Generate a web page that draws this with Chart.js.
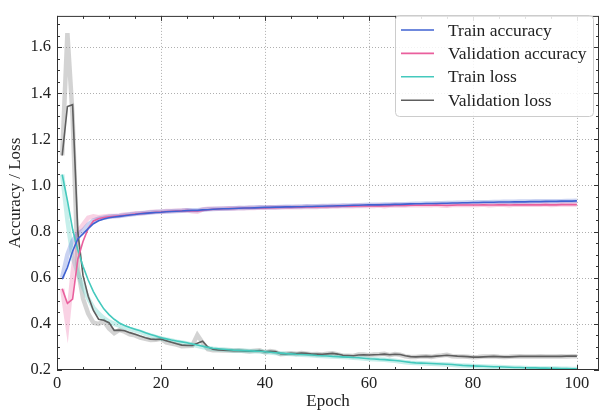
<!DOCTYPE html>
<html>
<head>
<meta charset="utf-8">
<script src="https://cdn.jsdelivr.net/npm/chart.js@4.4.1/dist/chart.umd.min.js"></script>
<style>
  html, body { margin: 0; padding: 0; background: #fff; }
  #wrap { width: 600px; height: 414px; }
</style>
</head>
<body>
<div id="wrap"><canvas id="historyChart" width="600" height="414"></canvas></div>
<script>
      // epochs 1..100
      const epochs = Array.from({ length: 100 }, (_, i) => i + 1);

      // smoothed curves (solid lines)
      const trainAcc = [
        0.594, 0.644, 0.715, 0.768, 0.790, 0.813, 0.834, 0.847, 0.855, 0.860,
        0.863, 0.866, 0.869, 0.872, 0.874, 0.877, 0.879, 0.881, 0.883, 0.884,
        0.886, 0.887, 0.888, 0.889, 0.891, 0.892, 0.892, 0.894, 0.895, 0.897,
        0.898, 0.899, 0.899, 0.900, 0.901, 0.902, 0.902, 0.903, 0.904, 0.905,
        0.905, 0.906, 0.906, 0.907, 0.907, 0.908, 0.908, 0.909, 0.909, 0.910,
        0.910, 0.911, 0.911, 0.912, 0.912, 0.913, 0.914, 0.914, 0.915, 0.916,
        0.916, 0.916, 0.917, 0.917, 0.918, 0.918, 0.919, 0.920, 0.921, 0.921,
        0.922, 0.922, 0.922, 0.923, 0.923, 0.924, 0.924, 0.925, 0.925, 0.926,
        0.926, 0.927, 0.927, 0.927, 0.928, 0.928, 0.928, 0.929, 0.929, 0.929,
        0.930, 0.930, 0.930, 0.931, 0.931, 0.931, 0.932, 0.932, 0.932, 0.933,
      ];
      const valAcc = [
        0.552, 0.489, 0.507, 0.680, 0.757, 0.814, 0.846, 0.856, 0.861, 0.864,
        0.866, 0.868, 0.871, 0.873, 0.876, 0.878, 0.880, 0.882, 0.884, 0.885,
        0.887, 0.888, 0.889, 0.890, 0.891, 0.890, 0.889, 0.892, 0.895, 0.897,
        0.898, 0.899, 0.900, 0.900, 0.901, 0.901, 0.902, 0.902, 0.903, 0.903,
        0.904, 0.904, 0.905, 0.905, 0.905, 0.906, 0.906, 0.907, 0.907, 0.907,
        0.908, 0.908, 0.909, 0.909, 0.910, 0.910, 0.910, 0.911, 0.911, 0.911,
        0.911, 0.912, 0.911, 0.912, 0.913, 0.913, 0.913, 0.914, 0.914, 0.914,
        0.914, 0.914, 0.915, 0.914, 0.913, 0.914, 0.915, 0.915, 0.915, 0.915,
        0.915, 0.916, 0.915, 0.915, 0.916, 0.916, 0.915, 0.916, 0.916, 0.916,
        0.916, 0.916, 0.916, 0.917, 0.916, 0.916, 0.917, 0.917, 0.917, 0.917,
      ];
      const trainLoss = [
        1.047, 0.935, 0.810, 0.720, 0.650, 0.590, 0.540, 0.500, 0.465, 0.440,
        0.420, 0.404, 0.393, 0.384, 0.377, 0.370, 0.362, 0.354, 0.347, 0.340,
        0.335, 0.330, 0.326, 0.322, 0.318, 0.313, 0.308, 0.303, 0.298, 0.294,
        0.292, 0.290, 0.288, 0.286, 0.285, 0.284, 0.283, 0.282, 0.281, 0.279,
        0.277, 0.275, 0.273, 0.271, 0.270, 0.268, 0.267, 0.266, 0.265, 0.263,
        0.262, 0.261, 0.259, 0.258, 0.257, 0.256, 0.254, 0.253, 0.251, 0.249,
        0.248, 0.246, 0.245, 0.243, 0.241, 0.239, 0.236, 0.233, 0.231, 0.230,
        0.229, 0.228, 0.227, 0.226, 0.225, 0.224, 0.222, 0.220, 0.219, 0.218,
        0.217, 0.216, 0.215, 0.214, 0.214, 0.213, 0.212, 0.211, 0.211, 0.210,
        0.209, 0.209, 0.208, 0.208, 0.207, 0.207, 0.206, 0.206, 0.205, 0.205,
      ];
      const valLoss = [
        1.130, 1.342, 1.350, 0.800, 0.610, 0.520, 0.458, 0.420, 0.416, 0.405,
        0.372, 0.373, 0.370, 0.362, 0.355, 0.347, 0.340, 0.334, 0.332, 0.334,
        0.327, 0.320, 0.314, 0.308, 0.306, 0.306, 0.316, 0.325, 0.300, 0.290,
        0.287, 0.286, 0.285, 0.284, 0.284, 0.283, 0.281, 0.282, 0.284, 0.279,
        0.281, 0.280, 0.271, 0.270, 0.272, 0.271, 0.273, 0.272, 0.269, 0.269,
        0.268, 0.270, 0.272, 0.269, 0.264, 0.263, 0.262, 0.265, 0.266, 0.265,
        0.266, 0.267, 0.269, 0.266, 0.268, 0.267, 0.262, 0.258, 0.257, 0.258,
        0.259, 0.258, 0.260, 0.262, 0.264, 0.262, 0.260, 0.259, 0.258, 0.256,
        0.256, 0.257, 0.258, 0.259, 0.258, 0.257, 0.257, 0.258, 0.259, 0.259,
        0.259, 0.259, 0.259, 0.259, 0.259, 0.259, 0.259, 0.260, 0.260, 0.260,
      ];

      // raw per-epoch values (faint wide lines)
      const rawTrainAcc = [
        0.600, 0.700, 0.760, 0.790, 0.805, 0.830, 0.848, 0.856, 0.860, 0.864,
        0.866, 0.868, 0.871, 0.874, 0.876, 0.879, 0.881, 0.883, 0.885, 0.886,
        0.887, 0.888, 0.889, 0.890, 0.892, 0.892, 0.893, 0.895, 0.897, 0.898,
        0.899, 0.899, 0.900, 0.901, 0.902, 0.902, 0.903, 0.904, 0.905, 0.905,
        0.906, 0.906, 0.907, 0.908, 0.908, 0.908, 0.909, 0.910, 0.910, 0.910,
        0.911, 0.911, 0.912, 0.912, 0.913, 0.913, 0.914, 0.914, 0.915, 0.916,
        0.916, 0.916, 0.917, 0.917, 0.918, 0.918, 0.919, 0.920, 0.921, 0.921,
        0.922, 0.922, 0.923, 0.923, 0.924, 0.924, 0.925, 0.925, 0.926, 0.926,
        0.927, 0.927, 0.927, 0.928, 0.928, 0.929, 0.929, 0.929, 0.930, 0.930,
        0.930, 0.931, 0.931, 0.931, 0.932, 0.932, 0.932, 0.933, 0.933, 0.934,
      ];
      const rawValAcc = [
        0.552, 0.395, 0.620, 0.800, 0.830, 0.860, 0.866, 0.862, 0.866, 0.868,
        0.868, 0.870, 0.874, 0.875, 0.879, 0.880, 0.882, 0.885, 0.886, 0.886,
        0.889, 0.889, 0.890, 0.891, 0.892, 0.888, 0.886, 0.896, 0.899, 0.899,
        0.899, 0.900, 0.901, 0.900, 0.902, 0.901, 0.903, 0.902, 0.904, 0.903,
        0.905, 0.904, 0.906, 0.905, 0.905, 0.907, 0.906, 0.908, 0.907, 0.907,
        0.909, 0.908, 0.910, 0.909, 0.911, 0.910, 0.910, 0.912, 0.911, 0.911,
        0.911, 0.913, 0.910, 0.913, 0.914, 0.913, 0.913, 0.915, 0.914, 0.914,
        0.914, 0.914, 0.916, 0.913, 0.912, 0.915, 0.916, 0.915, 0.915, 0.915,
        0.915, 0.917, 0.914, 0.915, 0.917, 0.916, 0.914, 0.917, 0.916, 0.916,
        0.916, 0.916, 0.916, 0.918, 0.915, 0.916, 0.918, 0.917, 0.917, 0.917,
      ];
      const rawTrainLoss = [
        1.047, 0.850, 0.690, 0.620, 0.560, 0.510, 0.470, 0.445, 0.425, 0.410,
        0.400, 0.392, 0.385, 0.378, 0.372, 0.365, 0.357, 0.350, 0.343, 0.337,
        0.332, 0.328, 0.323, 0.319, 0.315, 0.310, 0.305, 0.300, 0.295, 0.292,
        0.290, 0.289, 0.287, 0.285, 0.284, 0.283, 0.282, 0.281, 0.280, 0.278,
        0.276, 0.274, 0.272, 0.270, 0.269, 0.267, 0.266, 0.265, 0.264, 0.262,
        0.261, 0.260, 0.258, 0.257, 0.256, 0.255, 0.253, 0.252, 0.250, 0.248,
        0.247, 0.245, 0.244, 0.242, 0.240, 0.237, 0.234, 0.231, 0.230, 0.229,
        0.228, 0.227, 0.226, 0.225, 0.224, 0.223, 0.221, 0.219, 0.218, 0.217,
        0.216, 0.215, 0.214, 0.214, 0.213, 0.212, 0.211, 0.210, 0.210, 0.209,
        0.208, 0.208, 0.207, 0.207, 0.206, 0.206, 0.205, 0.205, 0.204, 0.204,
      ];
      const rawValLoss = [
        1.130, 1.660, 1.300, 0.640, 0.510, 0.445, 0.405, 0.400, 0.412, 0.380,
        0.360, 0.374, 0.366, 0.355, 0.350, 0.340, 0.335, 0.330, 0.331, 0.335,
        0.320, 0.315, 0.310, 0.303, 0.304, 0.305, 0.352, 0.318, 0.290, 0.286,
        0.286, 0.285, 0.284, 0.283, 0.284, 0.282, 0.280, 0.283, 0.285, 0.276,
        0.282, 0.278, 0.268, 0.270, 0.273, 0.270, 0.274, 0.271, 0.268, 0.269,
        0.267, 0.271, 0.273, 0.267, 0.262, 0.262, 0.261, 0.267, 0.267, 0.264,
        0.267, 0.268, 0.270, 0.264, 0.269, 0.266, 0.259, 0.256, 0.256, 0.259,
        0.260, 0.257, 0.261, 0.263, 0.266, 0.260, 0.259, 0.258, 0.257, 0.255,
        0.256, 0.258, 0.259, 0.260, 0.257, 0.256, 0.257, 0.259, 0.260, 0.259,
        0.258, 0.259, 0.260, 0.259, 0.258, 0.259, 0.260, 0.259, 0.260, 0.260,
      ];

      const seriesLabels = ["Train accuracy", "Validation accuracy", "Train loss", "Validation loss"];
      const xTicks = [0, 20, 40, 60, 80, 100];
      const yTicks = [0.2, 0.4, 0.6, 0.8, 1.0, 1.2, 1.4, 1.6];

      const serif = "'Liberation Serif', 'DejaVu Serif', serif";
      const colors = ["#3f62d2", "#ea5f9d", "#44c9bd", "#5e5e5e"];
      const faint = [
        "rgba(63, 98, 210, 0.28)",
        "rgba(234, 95, 157, 0.28)",
        "rgba(68, 201, 189, 0.3)",
        "rgba(120, 120, 120, 0.33)",
      ];

      function pts(arr) {
        return epochs.map((e, i) => ({ x: e, y: arr[i] }));
      }

      const smooth = [trainAcc, valAcc, trainLoss, valLoss];
      const raw = [rawTrainAcc, rawValAcc, rawTrainLoss, rawValLoss];

      const datasets = [];
      smooth.forEach((arr, i) => {
        datasets.push({
          label: seriesLabels[i],
          data: pts(arr),
          borderColor: colors[i],
          borderWidth: 1.6,
          pointRadius: 0,
          tension: 0,
          order: 1,
        });
      });
      raw.forEach((arr, i) => {
        datasets.push({
          label: seriesLabels[i] + " (raw)",
          data: pts(arr),
          borderColor: faint[i],
          borderWidth: 4.5,
          pointRadius: 0,
          tension: 0,
          order: 2,
        });
      });

      // grid, inward ticks, frame and boxed legend
      const sciStyle = {
        id: "sciStyle",
        beforeDatasetsDraw(chart) {
          const { ctx, chartArea: a, scales } = chart;
          ctx.save();
          ctx.strokeStyle = "#9a9a9a";
          ctx.lineWidth = 0.8;
          ctx.setLineDash([1, 2]);
          xTicks.forEach((v) => {
            const px = Math.round(scales.x.getPixelForValue(v)) + 0.5;
            if (px <= a.left + 1 || px >= a.right - 1) return;
            ctx.beginPath();
            ctx.moveTo(px, a.top);
            ctx.lineTo(px, a.bottom);
            ctx.stroke();
          });
          yTicks.forEach((v) => {
            const py = Math.round(scales.y.getPixelForValue(v)) + 0.5;
            if (py <= a.top + 1 || py >= a.bottom - 1) return;
            ctx.beginPath();
            ctx.moveTo(a.left, py);
            ctx.lineTo(a.right, py);
            ctx.stroke();
          });
          ctx.restore();
        },
        afterDraw(chart) {
          const { ctx, chartArea: a, scales } = chart;
          ctx.save();
          ctx.strokeStyle = "#333";
          ctx.lineWidth = 1;
          // minor + major ticks, all four sides
          for (let v = 0; v <= 100; v += 5) {
            const px = Math.round(scales.x.getPixelForValue(v)) + 0.5;
            const len = v % 20 === 0 ? 5 : 3;
            ctx.beginPath();
            ctx.moveTo(px, a.bottom);
            ctx.lineTo(px, a.bottom - len);
            ctx.moveTo(px, a.top);
            ctx.lineTo(px, a.top + len);
            ctx.stroke();
          }
          for (let k = 4; k <= 34; k++) {
            const v = k * 0.05;
            const py = Math.round(scales.y.getPixelForValue(v)) + 0.5;
            const len = k % 4 === 0 ? 5 : 3;
            ctx.beginPath();
            ctx.moveTo(a.left, py);
            ctx.lineTo(a.left + len, py);
            ctx.moveTo(a.right, py);
            ctx.lineTo(a.right - len, py);
            ctx.stroke();
          }
          ctx.strokeRect(a.left + 0.5, a.top + 0.5, a.right - a.left - 1, a.bottom - a.top - 1);

          // legend box
          const bx = 395, by = 15, bw = 198, bh = 101;
          ctx.fillStyle = "rgba(255,255,255,0.85)";
          ctx.strokeStyle = "#cccccc";
          ctx.lineWidth = 1;
          ctx.beginPath();
          ctx.roundRect(bx + 0.5, by + 0.5, bw, bh, 4);
          ctx.fill();
          ctx.stroke();
          ctx.font = "17.5px " + serif;
          ctx.textBaseline = "middle";
          ctx.fillStyle = "#222";
          seriesLabels.forEach((lab, i) => {
            const ry = by + 15 + i * 23.4;
            ctx.strokeStyle = colors[i];
            ctx.lineWidth = 1.6;
            ctx.beginPath();
            ctx.moveTo(bx + 6, ry);
            ctx.lineTo(bx + 39, ry);
            ctx.stroke();
            ctx.fillText(lab, bx + 53, ry + 1);
          });
          ctx.restore();
        },
      };

      const ctx = document.getElementById("historyChart").getContext("2d");
      const historyChart = new Chart(ctx, {
        type: "line",
        data: { datasets: datasets },
        options: {
          responsive: false,
          animation: false,
          layout: { padding: { top: 7, right: 1, left: 0, bottom: 0 } },
          plugins: {
            legend: { display: false },
            tooltip: { enabled: false },
          },
          scales: {
            x: {
              type: "linear",
              min: 0,
              max: 104.25,
              afterFit: (scale) => { scale.height = 44; },
              afterBuildTicks: (scale) => { scale.ticks = xTicks.map((v) => ({ value: v })); },
              grid: { display: false, drawTicks: false },
              border: { display: false },
              ticks: {
                padding: 4,
                color: "#222",
                font: { family: serif, size: 16.5 },
                maxRotation: 0,
              },
              title: {
                display: true,
                text: "Epoch",
                color: "#222",
                font: { family: serif, size: 17 },
                padding: { top: 0, bottom: 2 },
              },
            },
            y: {
              min: 0.2,
              max: 1.735,
              afterFit: (scale) => { scale.width = 57; },
              afterBuildTicks: (scale) => { scale.ticks = yTicks.map((v) => ({ value: v })); },
              grid: { display: false, drawTicks: false },
              border: { display: false },
              ticks: {
                padding: 6,
                color: "#222",
                font: { family: serif, size: 16.5 },
                callback: (v) => Number(v).toFixed(1),
              },
              title: {
                display: true,
                text: "Accuracy / Loss",
                color: "#222",
                font: { family: serif, size: 17 },
                padding: { top: 5, bottom: 0 },
              },
            },
          },
        },
        plugins: [sciStyle],
      });
</script>
</body>
</html>
